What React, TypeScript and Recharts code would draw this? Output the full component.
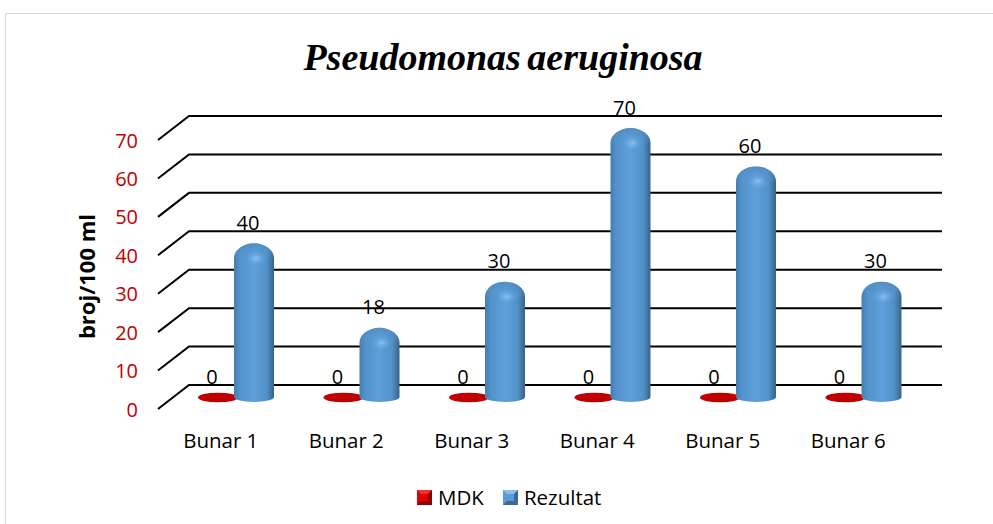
import React from "react";
import { BarChart, Bar, XAxis, YAxis, CartesianGrid, Legend, LabelList } from "recharts";

const categories = ["Bunar 1", "Bunar 2", "Bunar 3", "Bunar 4", "Bunar 5", "Bunar 6"];
const mdkValues = [0, 0, 0, 0, 0, 0];
const rezultatValues = [40, 18, 30, 70, 60, 30];
const yTicks = [0, 10, 20, 30, 40, 50, 60, 70];

const rows = categories.map((name, i) => ({ name, MDK: mdkValues[i], Rezultat: rezultatValues[i] }));

const FONT = '"Open Sans", "Noto Sans", sans-serif';
const SHIFT_X = 15;
const DEPTH_X = 31;
const DEPTH_Y = 24;

function GridLine(props: any) {
  const { x1, x2, y1 } = props;
  return (
    <path
      d={`M${x1},${y1} L${x1 + DEPTH_X},${y1 - DEPTH_Y} L${x2 + DEPTH_X},${y1 - DEPTH_Y}`}
      fill="none"
      stroke="#000"
      strokeWidth={2}
    />
  );
}

function BlueBar(props: any) {
  const { x, y, width, height } = props;
  const left = x + SHIFT_X;
  const right = left + width;
  const cx = left + width / 2;
  const top = y - 12;
  const bottom = y + height - 7;
  const capH = 15;
  const footH = 5;
  const d = `M${left},${top + capH} A${width / 2},${capH} 0 0 1 ${right},${top + capH} L${right},${bottom - footH} A${width / 2},${footH} 0 0 1 ${left},${bottom - footH} Z`;
  return (
    <g>
      <path d={d} fill="url(#blueBody)" />
      <path d={`M${left},${top + capH} A${width / 2},${capH} 0 0 1 ${right},${top + capH} Q${cx},${top + capH + 7} ${left},${top + capH} Z`} fill="url(#blueCap)" />
      <ellipse cx={cx + 2} cy={top + capH} rx={11} ry={8} fill="url(#blueGlow)" />
    </g>
  );
}

function RedBar(props: any) {
  const { x, y, width } = props;
  return <ellipse cx={x + SHIFT_X + width / 2} cy={y - 11.5} rx={width / 2} ry={4.8} fill="#c00000" />;
}

function ValueLabel(props: any) {
  const { x, y, width, value } = props;
  return (
    <text x={x + width / 2 + 9} y={y - 33} textAnchor="middle" dominantBaseline="central" fontFamily={FONT} fontSize={20} fill="#000">
      {value}
    </text>
  );
}

function YTick(props: any) {
  const { x, y, payload } = props;
  return (
    <text x={x - 14} y={y} textAnchor="end" dominantBaseline="central" fontFamily={FONT} fontSize={20} fill="#c00000">
      {payload.value}
    </text>
  );
}

function XTick(props: any) {
  const { x, y, payload } = props;
  return (
    <text x={x} y={y + 23} textAnchor="middle" dominantBaseline="central" fontFamily={FONT} fontSize={20.5} fill="#000">
      {payload.value}
    </text>
  );
}

function LegendIcon({ color, dark, light }: { color: string; dark: string; light: string }) {
  return (
    <svg width={15} height={15} style={{ display: "block" }}>
      <rect width={15} height={15} fill={color} />
      <polygon points="0,0 15,0 11,4 4,4" fill={light} />
      <polygon points="0,15 15,15 11,11 4,11" fill={dark} />
      <polygon points="15,0 15,15 11,11 11,4" fill={dark} />
    </svg>
  );
}

const legendStyle: Record<string, { color: string; dark: string; light: string }> = {
  MDK: { color: "#e00000", dark: "#8e0000", light: "#f03030" },
  Rezultat: { color: "#5b9bd5", dark: "#3a6a94", light: "#8fbde6" },
};

function LegendContent(props: any) {
  const items = props.payload || [];
  return (
    <div style={{ display: "flex", alignItems: "center", fontFamily: FONT, fontSize: 20.5, color: "#000", lineHeight: "24px" }}>
      {items.map((it: any, i: number) => (
        <div key={it.value} style={{ display: "flex", alignItems: "center", marginRight: i === 0 ? 19 : 0 }}>
          <LegendIcon {...legendStyle[it.value]} />
          <span style={{ marginLeft: 6 }}>{it.value}</span>
        </div>
      ))}
    </div>
  );
}

export default function App() {
  return (
    <div style={{ position: "absolute", left: 0, top: 0, width: 993, height: 524, overflow: "hidden", background: "#fff" }}>
      <div style={{ position: "absolute", left: 5, top: 13, width: 1100, height: 600, border: "1.5px solid #d9d9d9" }} />
      <div
        style={{
          position: "absolute",
          left: 0,
          width: 1006,
          top: 34,
          textAlign: "center",
          fontFamily: '"Liberation Serif", serif',
          fontStyle: "italic",
          fontWeight: 700,
          fontSize: 38,
          lineHeight: "46px",
          wordSpacing: -3,
          color: "#000",
        }}
      >
        Pseudomonas aeruginosa
      </div>
      <BarChart
        width={993}
        height={524}
        data={rows}
        barSize={40}
        barGap={-4}
        margin={{ top: 140, right: 82, bottom: 75, left: 78 }}
        style={{ position: "absolute", left: 0, top: 0 }}
      >
        <defs>
          <linearGradient id="blueBody" x1="0" y1="0" x2="1" y2="0">
            <stop offset="0" stopColor="#437eb1" />
            <stop offset="0.14" stopColor="#5291c9" />
            <stop offset="0.5" stopColor="#5fa0dc" />
            <stop offset="0.82" stopColor="#5290c7" />
            <stop offset="1" stopColor="#376287" />
          </linearGradient>
          <linearGradient id="blueCap" x1="0" y1="0" x2="0" y2="1">
            <stop offset="0" stopColor="#4a86ba" stopOpacity={0.7} />
            <stop offset="1" stopColor="#5f9fd8" stopOpacity={0} />
          </linearGradient>
          <radialGradient id="blueGlow">
            <stop offset="0" stopColor="#8cc4f0" stopOpacity={0.95} />
            <stop offset="1" stopColor="#5c9cd7" stopOpacity={0} />
          </radialGradient>
        </defs>
        <CartesianGrid vertical={false} horizontal={GridLine as any} />
        <XAxis dataKey="name" axisLine={false} tickLine={false} tick={XTick as any} height={40} interval={0} />
        <YAxis
          domain={[0, 70]}
          ticks={yTicks}
          axisLine={false}
          tickLine={false}
          tick={YTick as any}
          width={80}
          tickMargin={0}
          label={{
            value: "broj/100 ml",
            angle: -90,
            position: "insideLeft",
            offset: 9,
            dy: 2,
            style: { fontFamily: FONT, fontWeight: 700, fontSize: 22, fill: "#000", textAnchor: "middle" },
          }}
        />
        <Legend
          verticalAlign="middle"
          layout="horizontal"
          wrapperStyle={{ position: "absolute", left: 417, top: 485, width: 260, height: 24 }}
          content={LegendContent as any}
        />
        <Bar dataKey="MDK" name="MDK" fill="#c00000" isAnimationActive={false} shape={RedBar as any}>
          <LabelList dataKey="MDK" content={ValueLabel as any} />
        </Bar>
        <Bar dataKey="Rezultat" name="Rezultat" fill="#5b9bd5" isAnimationActive={false} shape={BlueBar as any}>
          <LabelList dataKey="Rezultat" content={ValueLabel as any} />
        </Bar>
      </BarChart>
    </div>
  );
}
